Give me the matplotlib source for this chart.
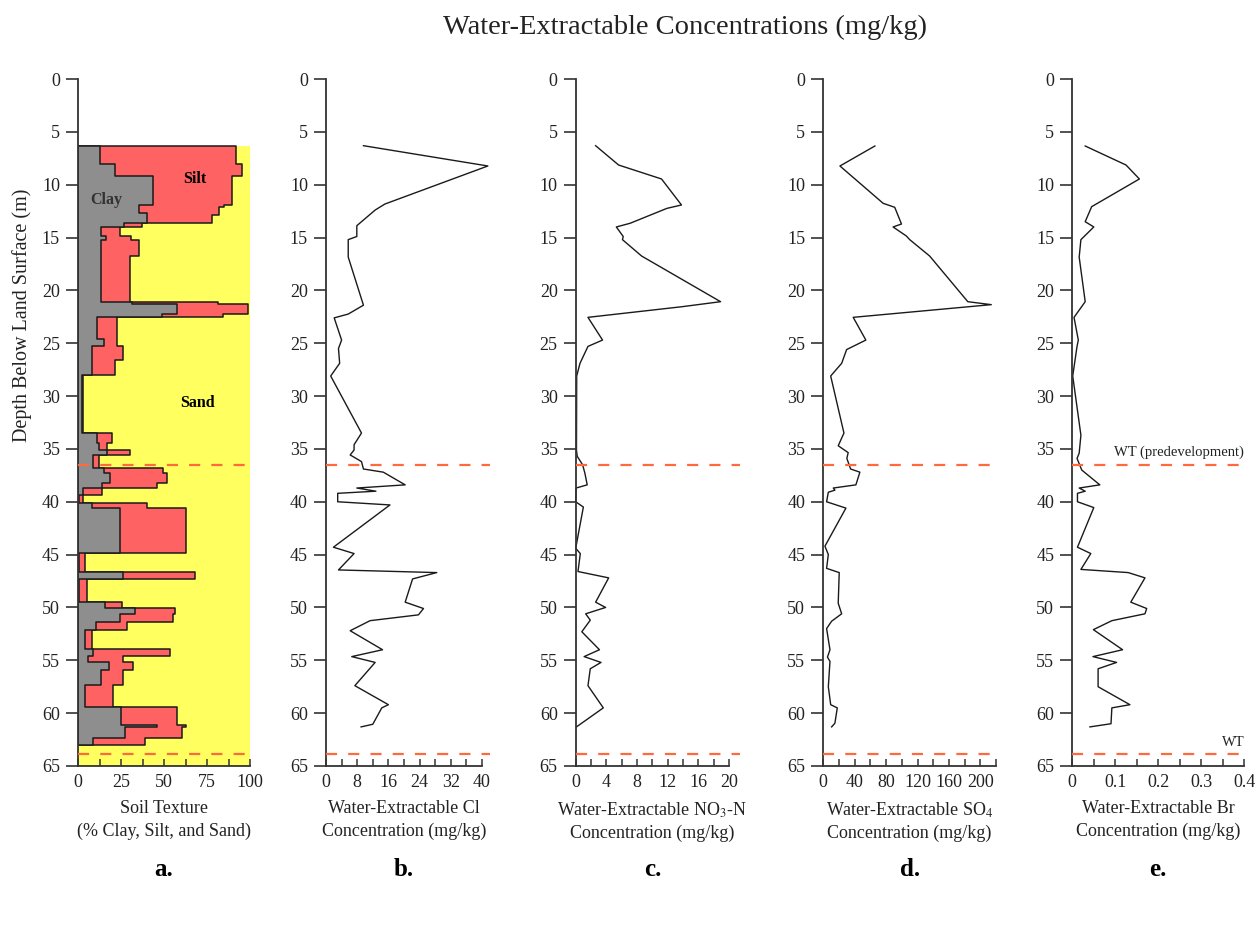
import numpy as np
import matplotlib
matplotlib.use("Agg")
import matplotlib.pyplot as plt
from matplotlib.ticker import MultipleLocator

plt.rcParams["font.family"] = ["Liberation Serif", "DejaVu Serif"]
plt.rcParams["mathtext.fontset"] = "stix"

# soil texture log: layer tops (m), clay % and clay+silt % per layer
layer_top = [6.3, 8.0, 9.2, 11.9, 12.1, 12.7, 12.9, 13.65, 13.97, 14.9, 15.2, 16.75,
             21.07, 21.3, 22.26, 22.55, 24.6, 25.3, 26.6, 28.0, 33.5, 34.4, 35.1, 35.57,
             36.83, 37.31, 38.25, 38.73, 39.36, 40.15, 40.62, 44.88, 46.61, 47.34, 49.45,
             50.08, 50.61, 51.34, 52.13, 53.96, 54.59, 55.12, 55.91, 57.33, 59.38, 61.12,
             61.34, 62.38]
log_bottom = 63.0
clay_pct = [12.8, 21.5, 43.8, 35.5, 35.5, 40.3, 40.3, 26.7, 13.2, 16, 13.2, 13.2,
            31.2, 57.4, 48.6, 11.2, 15, 8, 8, 2.1, 10.9, 12, 17, 8.9,
            15, 18.6, 13.8, 3.1, 0.8, 8, 24.4, 0.8, 26, 0.8, 15.7,
            33.1, 24.4, 10.5, 4, 8.9, 6, 18.2, 13.2, 4, 24.8, 45.7,
            27.3, 8.9]
fines_pct = [91.7, 95.2, 89.3, 84.9, 82.0, 82.0, 77.7, 37, 24.4, 30.6, 35.7, 30,
             81.6, 99, 84.5, 22.9, 22.9, 26.4, 21.5, 3.1, 19.6, 17, 30, 12.4,
             49.6, 51.9, 46.1, 13.8, 2.7, 40.3, 62.8, 4, 68, 5, 25.4,
             56.4, 55, 28.3, 8, 53.5, 26, 31.8, 26, 20.2, 57.4, 62.8,
             60.3, 39]

# chloride
cl_depth = [6.31, 8.23, 11.83, 12.4, 13.88, 14.9, 15.2, 16.85, 21.4, 22.24, 22.6, 24.7,
            25.5, 26.9, 28.1, 33.5, 34.6, 35.1, 35.57, 36.2, 36.9, 37.2, 38.4, 38.7,
            39.0, 39.2, 40.0, 40.3, 44.3, 44.9, 46.45, 46.7, 47.3, 49.5, 50.1, 50.7,
            51.25, 52.2, 54.0, 54.65, 55.2, 57.4, 59.2, 59.5, 61.05, 61.3]
cl_conc = [9.6, 41.5, 15.1, 12.6, 7.9, 7.9, 5.7, 5.7, 9.6, 5.7, 2.1, 4.0,
           3.2, 3.5, 1.2, 9.1, 7.2, 7.2, 6.2, 9.1, 9.6, 14.7, 20.3, 7.9,
           12.8, 3.0, 3.0, 16.4, 1.9, 7.2, 3.2, 28.4, 22.2, 20.3, 25.0, 23.7,
           11.3, 6.2, 14.5, 6.6, 12.6, 7.4, 16.0, 14.3, 12.0, 9.0]

# nitrate-N
no3_depth = [6.31, 8.14, 9.46, 11.92, 12.24, 13.65, 14.0, 14.9, 15.2, 16.75, 21.07, 21.55,
             22.55, 24.7, 25.3, 26.9, 28.1, 35.1, 35.7, 36.5, 37.3, 38.4, 38.7, 40.0,
             40.5, 44.4, 44.9, 46.6, 47.2, 49.5, 50.0, 50.6, 51.2, 52.3, 54.0, 54.65,
             55.2, 55.8, 57.4, 59.5, 61.3]
no3_conc = [2.6, 5.6, 11.2, 13.8, 11.9, 7.1, 5.3, 6.2, 6.1, 8.6, 18.9, 13.8,
            1.6, 3.5, 1.6, 0.56, 0.13, 0.1, 0.2, 0.9, 1.2, 1.5, 0.05, 0.0,
            1.0, 0.0, 0.6, 0.3, 4.3, 2.6, 3.9, 1.3, 1.9, 0.8, 3.1, 1.1,
            3.3, 1.9, 1.6, 3.6, 0.1]

# sulfate
so4_depth = [6.34, 8.23, 11.76, 12.14, 13.72, 14.0, 14.86, 15.2, 16.75, 21.07, 21.35, 22.55,
             24.7, 25.6, 26.9, 28.1, 33.5, 34.7, 35.35, 35.9, 36.9, 37.2, 38.4, 38.7,
             38.9, 39.1, 40.0, 40.6, 44.2, 45.0, 46.3, 46.7, 49.6, 50.6, 51.3, 52.0,
             54.0, 54.7, 55.1, 57.5, 59.2, 59.5, 60.95, 61.3]
so4_conc = [65.7, 21.2, 76.2, 91, 99.6, 88.9, 105.9, 110.1, 135.5, 184.1, 214, 38.1,
            54.2, 29.7, 23.4, 9.4, 26.3, 19, 31.7, 30, 34.8, 46.6, 41.5, 12.7,
            14.8, 6.4, 4.2, 28.8, 2.1, 6.4, 4.2, 20.3, 19, 23.4, 10.6, 4.2,
            8.5, 5.3, 8.5, 6.4, 9.4, 17.8, 14.8, 10.6]

# bromide
br_depth = [6.34, 8.14, 9.46, 12.08, 13.5, 14.0, 15.2, 16.85, 21.07, 22.55, 24.7, 25.3,
            28.1, 33.7, 35.4, 35.9, 37.0, 38.4, 38.7, 39.0, 39.2, 40.0, 40.55, 44.3,
            44.9, 46.4, 46.7, 47.2, 49.5, 50.1, 50.6, 51.25, 52.1, 54.0, 54.65, 55.2,
            55.8, 57.5, 59.2, 59.5, 61.0, 61.3]
br_conc = [0.030, 0.125, 0.156, 0.045, 0.030, 0.050, 0.020, 0.016, 0.030, 0.004, 0.014, 0.011,
           0.001, 0.020, 0.016, 0.011, 0.022, 0.064, 0.016, 0.030, 0.012, 0.012, 0.050, 0.012,
           0.043, 0.020, 0.130, 0.169, 0.136, 0.173, 0.169, 0.092, 0.049, 0.117, 0.048, 0.103,
           0.060, 0.060, 0.134, 0.092, 0.090, 0.041]

wt_predev = 36.5
wt_now = 63.9

ink = "#222222"
dash_col = "#FF6A3D"

fig = plt.figure(figsize=(12.59, 9.34), dpi=100)
W, H = 1259.0, 934.0
y0, y1 = 79.0, 766.0  # pixel rows of depth 0 and 65


def make_ax(left_px, right_px):
    ax = fig.add_axes([left_px / W, 1 - y1 / H, (right_px - left_px) / W, (y1 - y0) / H])
    ax.set_ylim(65, 0)
    ax.yaxis.set_major_locator(MultipleLocator(5))
    for s in ("top", "right"):
        ax.spines[s].set_visible(False)
    for s in ("left", "bottom"):
        ax.spines[s].set_linewidth(1.3)
        ax.spines[s].set_color("#333333")
    ax.tick_params(axis="y", direction="out", length=9, width=1.2, color="#333333",
                   labelsize=13, labelcolor=ink, pad=4)
    ax.tick_params(axis="x", which="both", direction="in", length=5, width=1.1,
                   color="#333333", labelsize=13, labelcolor=ink, pad=6)
    ax.set_facecolor("none")
    return ax


def under_text(ax, line1, line2, letter):
    ax.text(0.5, -0.05, line1 + "\n" + line2, transform=ax.transAxes, ha="center",
            va="top", fontsize=13, color=ink, linespacing=1.4)
    ax.text(0.5, -0.15, letter, transform=ax.transAxes, ha="center", va="center",
            fontsize=18, fontweight="bold", color="black")


def water_tables(ax, xmax=1.0):
    for d in (wt_predev, wt_now):
        ax.axhline(d, xmin=0, xmax=xmax, color=dash_col, lw=1.6, ls=(0, (5, 5)),
                   clip_on=False, zorder=3)


# a. soil texture
ax_a = make_ax(78, 250)
ax_a.set_xlim(0, 100)
ax_a.xaxis.set_major_locator(MultipleLocator(25))
ax_a.xaxis.set_minor_locator(MultipleLocator(12.5))
ax_a.fill_betweenx([layer_top[0], 65], 0, 100, color="#FFFF60", lw=0, zorder=1)
edges = layer_top + [log_bottom]
ys, xc, xf = [], [], []
for i in range(len(layer_top)):
    ys += [edges[i], edges[i + 1]]
    xc += [clay_pct[i], clay_pct[i]]
    xf += [fines_pct[i], fines_pct[i]]
ax_a.fill_betweenx(ys, 0, xf, facecolor="#FF6262", edgecolor="#1a1a1a", lw=1.1, zorder=2)
ax_a.fill_betweenx(ys, 0, xc, facecolor="#8E8E8E", edgecolor="#1a1a1a", lw=1.1, zorder=2)
ax_a.text(67.7, 9.46, "Silt", fontsize=11.5, fontweight="bold", ha="center", va="center", zorder=4)
ax_a.text(16.7, 11.45, "Clay", fontsize=11.5, fontweight="bold", color="#333333",
          ha="center", va="center", zorder=4)
ax_a.text(69.5, 30.7, "Sand", fontsize=11.5, fontweight="bold", ha="center", va="center", zorder=4)
water_tables(ax_a)
under_text(ax_a, "Soil Texture", "(% Clay, Silt, and Sand)", "a.")

# b. chloride
ax_b = make_ax(326, 482)
ax_b.set_xlim(0, 40)
ax_b.xaxis.set_major_locator(MultipleLocator(8))
ax_b.xaxis.set_minor_locator(MultipleLocator(4))
ax_b.plot(cl_conc, cl_depth, color="#1a1a1a", lw=1.0, clip_on=False)
water_tables(ax_b, 1.05)
under_text(ax_b, "Water-Extractable Cl", "Concentration (mg/kg)", "b.")

# c. nitrate-N
ax_c = make_ax(575.7, 729)
ax_c.set_xlim(0, 20)
ax_c.xaxis.set_major_locator(MultipleLocator(4))
ax_c.xaxis.set_minor_locator(MultipleLocator(2))
ax_c.plot(no3_conc, no3_depth, color="#1a1a1a", lw=1.0, clip_on=False)
water_tables(ax_c, 1.07)
under_text(ax_c, "Water-Extractable NO$_3$-N", "Concentration (mg/kg)", "c.")

# d. sulfate
ax_d = make_ax(823.3, 996)
ax_d.set_xlim(0, 220)
ax_d.set_xticks([0, 40, 80, 120, 160, 200])
ax_d.xaxis.set_minor_locator(MultipleLocator(20))
ax_d.plot(so4_conc, so4_depth, color="#1a1a1a", lw=1.0, clip_on=False)
water_tables(ax_d, 1.02)
under_text(ax_d, "Water-Extractable SO$_4$", "Concentration (mg/kg)", "d.")

# e. bromide
ax_e = make_ax(1072.3, 1244.3)
ax_e.set_xlim(0, 0.4)
ax_e.set_xticks([0, 0.1, 0.2, 0.3, 0.4])
ax_e.set_xticklabels(["0", "0.1", "0.2", "0.3", "0.4"])
ax_e.xaxis.set_minor_locator(MultipleLocator(0.05))
ax_e.plot(br_conc, br_depth, color="#1a1a1a", lw=1.0, clip_on=False)
water_tables(ax_e)
ax_e.text(0.4, wt_predev - 0.5, "WT (predevelopment)", fontsize=10.5, color=ink,
          ha="right", va="bottom")
ax_e.text(0.4, wt_now - 0.5, "WT", fontsize=10.5, color=ink, ha="right", va="bottom")
under_text(ax_e, "Water-Extractable Br", "Concentration (mg/kg)", "e.")

for ax in (ax_b, ax_c, ax_d, ax_e):
    ax.tick_params(axis="x", which="minor", length=5)

fig.text(685 / W, 1 - 27 / H, "Water-Extractable Concentrations (mg/kg)",
         ha="center", va="center", fontsize=20.5, color=ink)
fig.text(22 / W, 1 - 315 / H, "Depth Below Land Surface (m)", rotation=90,
         ha="center", va="center", fontsize=14.5, color=ink)

fig.savefig("out.png", dpi=100)
